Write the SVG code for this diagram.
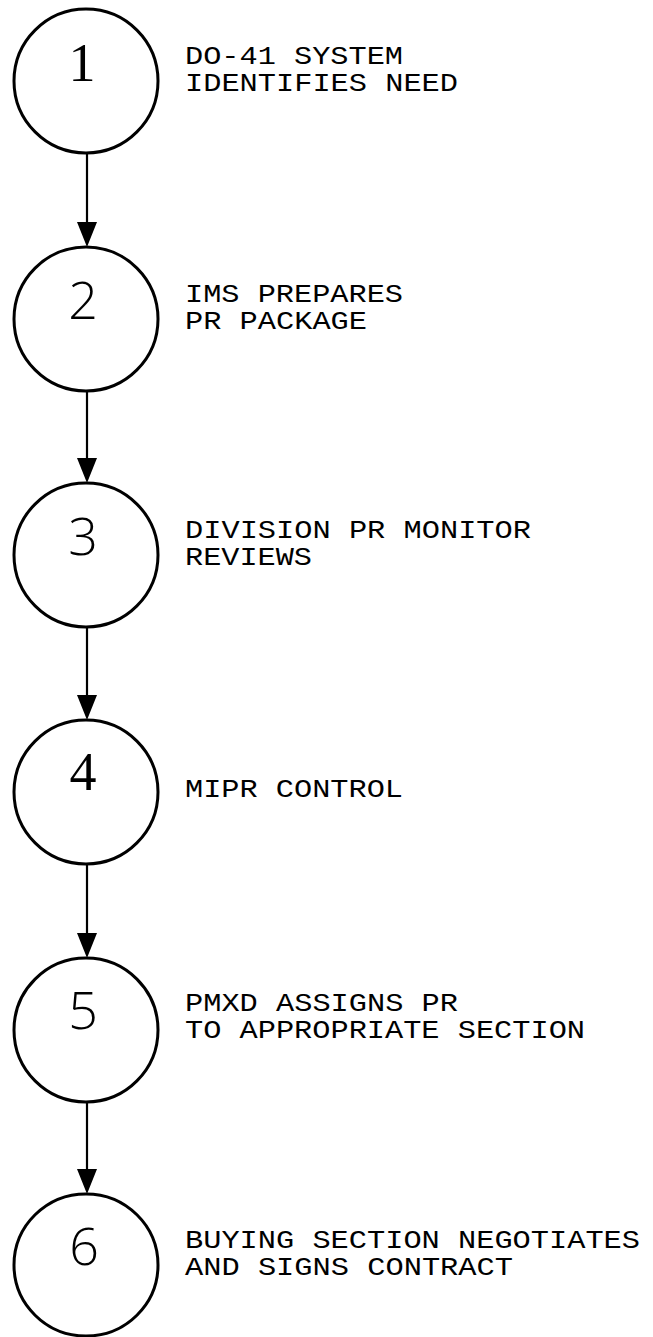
<svg xmlns="http://www.w3.org/2000/svg" width="653" height="1337" viewBox="0 0 653 1337">
<style>
.c{fill:none;stroke:#000;stroke-width:3}
.d{font-family:"Open Sans",Roboto,"Liberation Sans",sans-serif;font-weight:300;font-size:52px;fill:#000;text-anchor:middle}
.ds{font-family:"Liberation Serif","Times New Roman",serif;font-size:54px;fill:#000;text-anchor:middle}
.t{font-family:"Liberation Mono","Courier New",monospace;font-size:25px;fill:#000}
.l{stroke:#000;stroke-width:2.2}
.a{fill:#000}
</style>
<rect width="653" height="1337" fill="#fff"/>
<g id="connectors">
<line class="l" x1="87" y1="154" x2="87" y2="224"/><polygon class="a" points="77,222 97,222 87,247"/>
<line class="l" x1="87" y1="392" x2="87" y2="460"/><polygon class="a" points="77,458 97,458 87,483"/>
<line class="l" x1="87" y1="628" x2="87" y2="697"/><polygon class="a" points="77,695 97,695 87,720"/>
<line class="l" x1="87" y1="865" x2="87" y2="935"/><polygon class="a" points="77,933 97,933 87,958"/>
<line class="l" x1="87" y1="1102" x2="87" y2="1171"/><polygon class="a" points="77,1169 97,1169 87,1194"/>
</g>
<g id="node1"><ellipse class="c" cx="86" cy="81" rx="72" ry="72"/><text class="ds" x="82" y="81">1</text>
<text class="t" x="185" y="64" textLength="218" lengthAdjust="spacingAndGlyphs">DO-41 SYSTEM</text><text class="t" x="185" y="91" textLength="273" lengthAdjust="spacingAndGlyphs">IDENTIFIES NEED</text></g>
<g id="node2"><ellipse class="c" cx="86" cy="319" rx="72" ry="72"/><text class="d" x="83" y="319">2</text>
<text class="t" x="185" y="302" textLength="218" lengthAdjust="spacingAndGlyphs">IMS PREPARES</text><text class="t" x="185" y="329" textLength="182" lengthAdjust="spacingAndGlyphs">PR PACKAGE</text></g>
<g id="node3"><ellipse class="c" cx="86" cy="555" rx="72" ry="72"/><text class="d" x="83" y="555">3</text>
<text class="t" x="185" y="538" textLength="346" lengthAdjust="spacingAndGlyphs">DIVISION PR MONITOR</text><text class="t" x="185" y="565" textLength="127" lengthAdjust="spacingAndGlyphs">REVIEWS</text></g>
<g id="node4"><ellipse class="c" cx="86" cy="792" rx="72" ry="72"/><text class="ds" x="83" y="790">4</text>
<text class="t" x="185" y="797" textLength="218" lengthAdjust="spacingAndGlyphs">MIPR CONTROL</text></g>
<g id="node5"><ellipse class="c" cx="86" cy="1030" rx="72" ry="72"/><text class="d" x="83" y="1029">5</text>
<text class="t" x="185" y="1011" textLength="273" lengthAdjust="spacingAndGlyphs">PMXD ASSIGNS PR</text><text class="t" x="185" y="1038" textLength="400" lengthAdjust="spacingAndGlyphs">TO APPROPRIATE SECTION</text></g>
<g id="node6"><ellipse class="c" cx="86" cy="1265" rx="72" ry="71"/><text class="d" x="84" y="1265">6</text>
<text class="t" x="185" y="1248" textLength="455" lengthAdjust="spacingAndGlyphs">BUYING SECTION NEGOTIATES</text><text class="t" x="185" y="1275" textLength="328" lengthAdjust="spacingAndGlyphs">AND SIGNS CONTRACT</text></g>
</svg>
